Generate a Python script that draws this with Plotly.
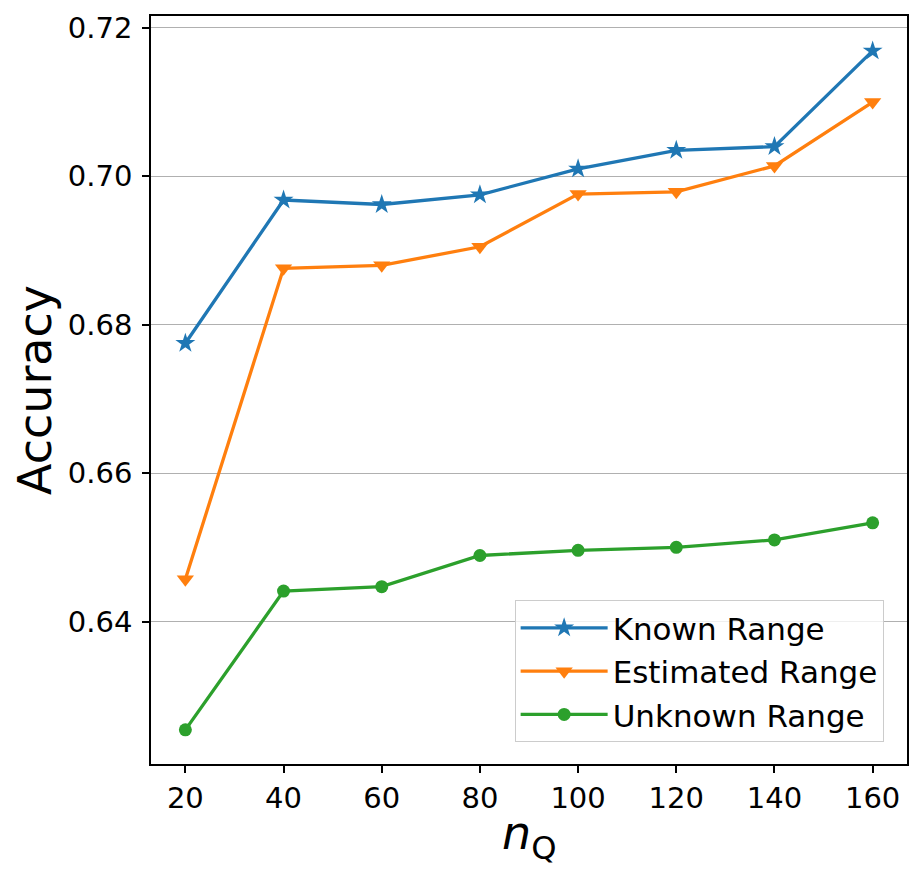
import plotly.graph_objects as go

n_q = [20, 40, 60, 80, 100, 120, 140, 160]
known_range = [0.6775, 0.6968, 0.6962, 0.6975, 0.7010, 0.7035, 0.7040, 0.7169]
estimated_range = [0.6457, 0.6876, 0.6880, 0.6905, 0.6976, 0.6979, 0.7014, 0.7100]
unknown_range = [0.6254, 0.6441, 0.6447, 0.6489, 0.6496, 0.6500, 0.6510, 0.6533]

y_ticks = [0.64, 0.66, 0.68, 0.70, 0.72]

fig = go.Figure()

series = [
    ("Known Range", known_range, "#1f77b4", "star", 15),
    ("Estimated Range", estimated_range, "#ff7f0e", "triangle-down", 15),
    ("Unknown Range", unknown_range, "#2ca02c", "circle", 13),
]
for name, vals, color, symbol, size in series:
    fig.add_trace(go.Scatter(
        x=n_q, y=vals, mode="lines+markers", name=name,
        line=dict(color=color, width=3.3),
        marker=dict(symbol=symbol, size=size, color=color),
    ))

tick_font = dict(family="DejaVu Sans", size=29, color="black")
title_font = dict(family="DejaVu Sans", size=46, color="black")

fig.update_xaxes(
    range=[13, 167], tickvals=n_q, ticks="outside", ticklen=7, tickwidth=1.5,
    tickcolor="black", tickfont=tick_font, showline=True, linecolor="black",
    linewidth=1.5, mirror=True, showgrid=False, zeroline=False,
)
fig.update_yaxes(
    range=[0.6208, 0.7216], tickvals=y_ticks, tickformat=".2f", ticks="outside",
    ticklen=7, tickwidth=1.5, tickcolor="black", tickfont=tick_font,
    ticklabelstandoff=4,
    showline=True, linecolor="black", linewidth=1.5, mirror=True,
    showgrid=True, gridcolor="#b0b0b0", gridwidth=1.2, zeroline=False,
    title=dict(text="Accuracy", font=title_font, standoff=10),
)

# x title as an annotation so it can sit a bit closer to the tick labels
fig.add_annotation(
    text="<i>n</i><sub>Q</sub>", xref="paper", yref="paper", x=0.5, y=0,
    xanchor="center", yanchor="top", yshift=-40, showarrow=False,
    font=title_font,
)

# the page adds a small offset, so margins are shifted to match
fig.update_layout(
    width=920, height=876,
    margin=dict(l=143, r=21, t=3, b=120),
    paper_bgcolor="white", plot_bgcolor="white",
    font=dict(family="DejaVu Sans", color="black"),
    legend=dict(
        x=0.481, y=0.219, xanchor="left", yanchor="top",
        font=dict(family="DejaVu Sans", size=31, color="black"),
        bgcolor="rgba(255,255,255,0.8)", bordercolor="#cccccc", borderwidth=1,
        itemwidth=87,
    ),
)

fig.write_html("out.html")
